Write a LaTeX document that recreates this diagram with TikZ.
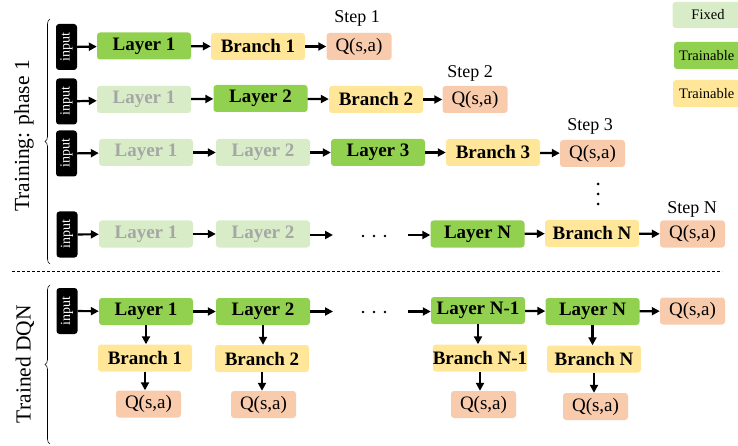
\documentclass[tikz,border=0pt]{standalone}
\usepackage{fontspec}
\setmainfont{Liberation Serif}
\usetikzlibrary{arrows.meta,decorations.pathreplacing}
\definecolor{fixedc}{RGB}{216,236,200}
\definecolor{trainc}{RGB}{146,208,80}
\definecolor{branchc}{RGB}{255,230,153}
\definecolor{qc}{RGB}{248,203,173}
\definecolor{fadetext}{RGB}{166,166,166}
\tikzset{
  box/.style={rounded corners=3pt,minimum width=94pt,minimum height=27pt,inner sep=0pt,font=\fontsize{19}{21}\selectfont\bfseries},
  layerbox/.style={box,fill=trainc},
  fixbox/.style={box,fill=fixedc,text=fadetext},
  branchbox/.style={box,fill=branchc},
  qbox/.style={rounded corners=3pt,minimum width=65pt,minimum height=27pt,inner sep=0pt,fill=qc,font=\fontsize{19}{21}\selectfont},
  inbox/.style={rounded corners=3pt,fill=black,text=white,minimum width=21pt,minimum height=46pt,inner sep=0pt},
  intext/.style={rotate=90,text=white,inner sep=0pt,font=\fontsize{14}{15}\selectfont},
  steplabel/.style={font=\fontsize{18}{20}\selectfont},
  arr/.style={-{Triangle[length=8pt,width=8pt]},line width=2.2pt},
  legbox/.style={rounded corners=3pt,minimum height=26pt,inner sep=0pt,font=\fontsize{14.5}{16}\selectfont},
  bracestyle/.style={decorate,decoration={brace,amplitude=5pt},line width=0.6pt},
  sidelabel/.style={rotate=90,font=\fontsize{21.5}{24}\selectfont},
}
\begin{document}
\begin{tikzpicture}[x=1pt,y=-1pt]
\useasboundingbox (0,0) rectangle (738,446);
% legend
\node[legbox,fill=fixedc,minimum width=71pt] (lf) at (708,15) {Fixed};
\fill[trainc,rounded corners=3pt] (674,42) rectangle (760,69);
\node[legbox,anchor=west] (lt) at (679,55.5) {Trainable};
\fill[branchc,rounded corners=3pt] (673,80) rectangle (760,107);
\node[legbox,anchor=west] (lb) at (679,93.5) {Trainable};
% side labels and braces
\node[sidelabel] (tr) at (24,136) {Training: phase 1};
\node[sidelabel] (td) at (25,364) {Trained DQN};
\draw[bracestyle] (50,264) -- (50,19);
\draw[bracestyle] (50,444) -- (50,285);
\draw[dashed,line width=0.6pt,dash pattern=on 3pt off 2pt] (12,271) -- (722,271);
% row 1
\node[inbox] (i1) at (66.5,47) {};
\node[intext] at (i1) {input};
\node[layerbox] (a1) at (144,46) {Layer 1};
\node[branchbox] (a2) at (258,46.5) {Branch 1};
\node[qbox] (a3) at (359,46.5) {Q(s,a)};
\node[steplabel] (s1) at (357,18) {Step 1};
\draw[arr] (i1) -- (a1);
\draw[arr] (a1) -- (a2);
\draw[arr] (a2) -- (a3);
% row 2
\node[inbox] (i2) at (66.5,101.5) {};
\node[intext] at (i2) {input};
\node[fixbox] (b1) at (144,99.5) {Layer 1};
\node[layerbox] (b2) at (260.5,98.5) {Layer 2};
\node[branchbox] (b3) at (376,99.5) {Branch 2};
\node[qbox] (b4) at (475,99.5) {Q(s,a)};
\node[steplabel] (s2) at (470,73) {Step 2};
\draw[arr] (i2) -- (b1);
\draw[arr] (b1) -- (b2);
\draw[arr] (b2) -- (b3);
\draw[arr] (b3) -- (b4);
% row 3
\node[inbox] (i3) at (66.5,153.5) {};
\node[intext] at (i3) {input};
\node[fixbox] (c1) at (146,152.5) {Layer 1};
\node[fixbox] (c2) at (263,152.5) {Layer 2};
\node[layerbox] (c3) at (378,152.5) {Layer 3};
\node[branchbox] (c4) at (493,152.5) {Branch 3};
\node[qbox] (c5) at (592.5,153.5) {Q(s,a)};
\node[steplabel] (s3) at (590,126) {Step 3};
\draw[arr] (i3) -- (c1);
\draw[arr] (c1) -- (c2);
\draw[arr] (c2) -- (c3);
\draw[arr] (c3) -- (c4);
\draw[arr] (c4) -- (c5);
\fill (598,184) circle (1.5pt) (598,194) circle (1.5pt) (598,204) circle (1.5pt);
% row 4
\node[inbox] (i4) at (67,234.5) {};
\node[intext] at (i4) {input};
\node[fixbox] (d1) at (146,234) {Layer 1};
\node[fixbox] (d2) at (263,234) {Layer 2};
\fill (363,236) circle (1.4pt) (374,236) circle (1.4pt) (385,236) circle (1.4pt);
\coordinate (d3a) at (333,235);
\coordinate (d3b) at (408,235);
\node[layerbox] (d4) at (477.5,234) {Layer N};
\node[branchbox] (d5) at (592,233.5) {Branch N};
\node[qbox] (d6) at (692.5,234) {Q(s,a)};
\node[steplabel] (s4) at (692,209) {Step N};
\draw[arr] (i4) -- (d1);
\draw[arr] (d1) -- (d2);
\draw[arr] (d2.east |- d3a) -- (d3a);
\draw[arr] (d3b) -- (d3b -| d4.west);
\draw[arr] (d4) -- (d5);
\draw[arr] (d5) -- (d6);
% trained DQN
\node[inbox] (i5) at (67,311) {};
\node[intext] at (i5) {input};
\node[layerbox] (e1) at (146,311.5) {Layer 1};
\node[layerbox] (e2) at (263,311.5) {Layer 2};
\fill (363,312) circle (1.4pt) (374,312) circle (1.4pt) (385,312) circle (1.4pt);
\coordinate (e3a) at (333,311.5);
\coordinate (e3b) at (408,311.5);
\node[layerbox] (e4) at (478,310.5) {Layer N-1};
\node[layerbox] (e5) at (592.5,311.5) {Layer N};
\node[qbox] (e6) at (692.5,311) {Q(s,a)};
\draw[arr] (i5) -- (e1);
\draw[arr] (e1) -- (e2);
\draw[arr] (e2.east |- e3a) -- (e3a);
\draw[arr] (e3b) -- (e3b -| e4.west);
\draw[arr] (e4) -- (e5);
\draw[arr] (e5) -- (e6);
\node[branchbox] (f1) at (145,358) {Branch 1};
\node[branchbox] (f2) at (262,358.5) {Branch 2};
\node[branchbox] (f4) at (480,358) {Branch N-1};
\node[branchbox] (f5) at (594,359) {Branch N};
\node[qbox] (g1) at (148.5,404) {Q(s,a)};
\node[qbox] (g2) at (263.5,404.5) {Q(s,a)};
\node[qbox] (g4) at (483.5,404.5) {Q(s,a)};
\node[qbox] (g5) at (595.5,406.5) {Q(s,a)};
\draw[arr] (e1.south) -- (e1.south |- f1.north);
\draw[arr] (e2.south) -- (e2.south |- f2.north);
\draw[arr] (e4.south) -- (e4.south |- f4.north);
\draw[arr] (e5.south) -- (e5.south |- f5.north);
\draw[arr] (f1.south) -- (f1.south |- g1.north);
\draw[arr] (f2.south) -- (f2.south |- g2.north);
\draw[arr] (f4.south) -- (f4.south |- g4.north);
\draw[arr] (f5.south) -- (f5.south |- g5.north);
\end{tikzpicture}
\end{document}
